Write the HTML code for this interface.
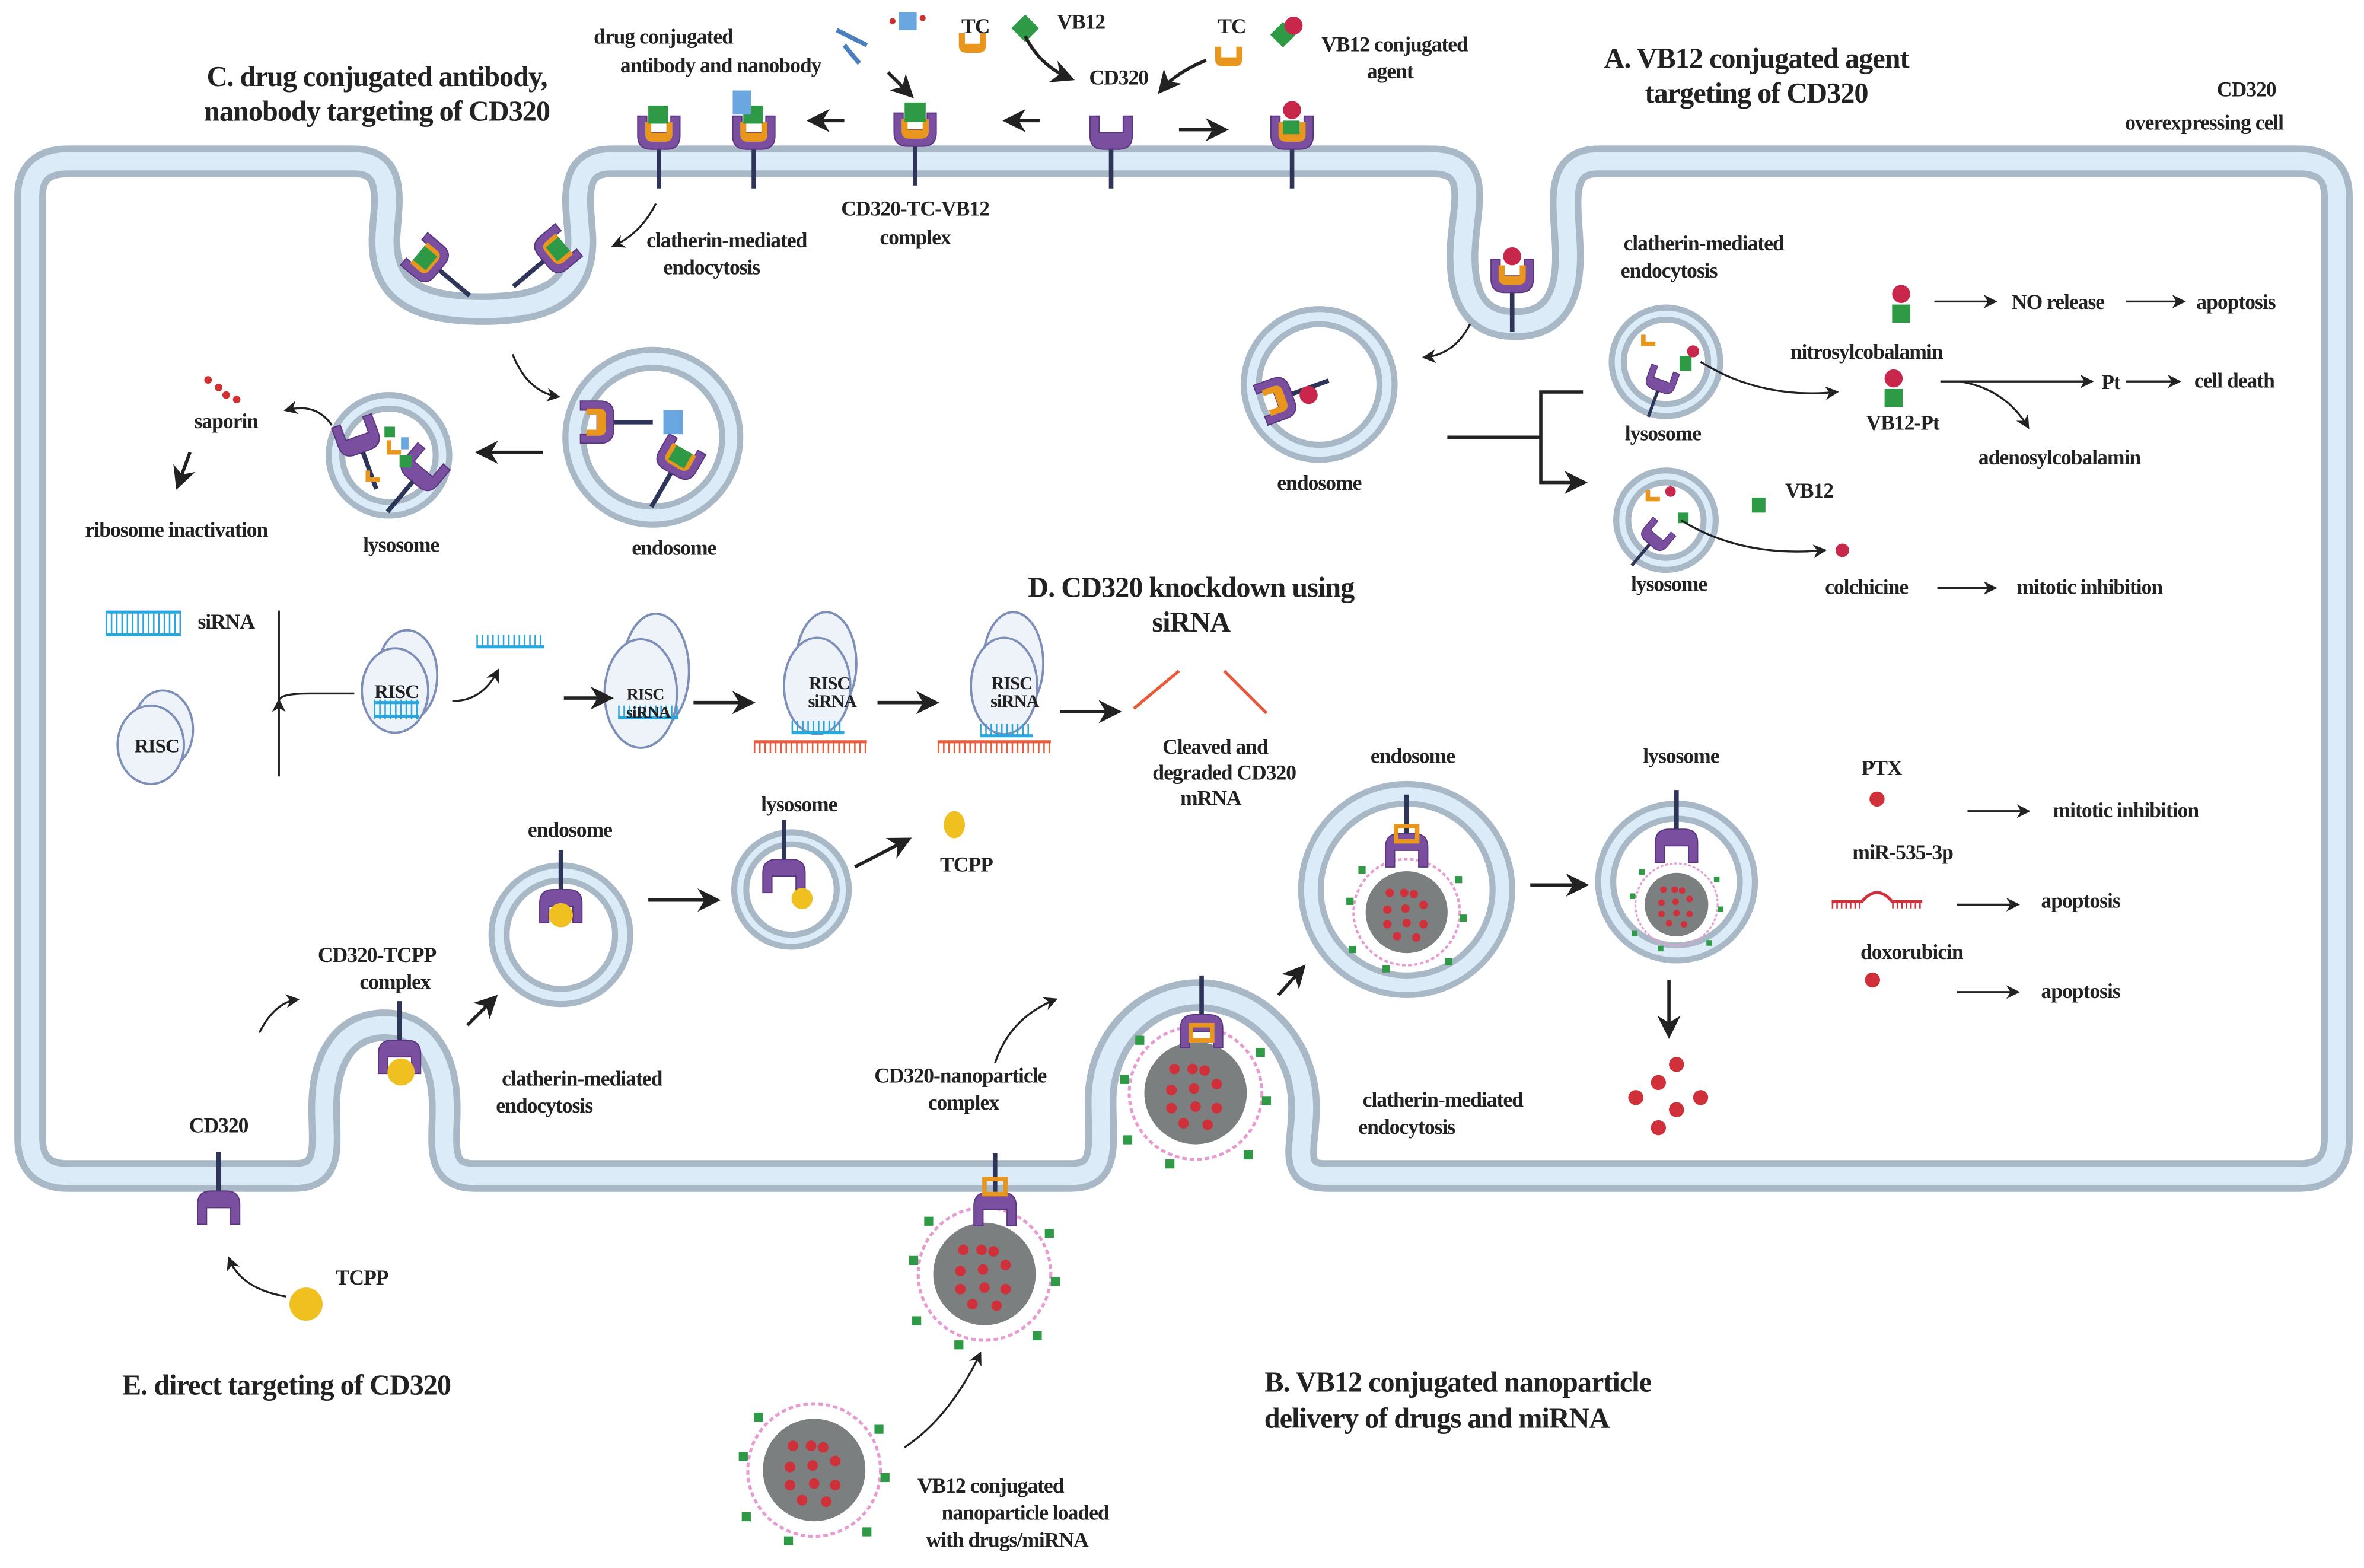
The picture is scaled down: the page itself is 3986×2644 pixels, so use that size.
<!DOCTYPE html>
<html><head><meta charset="utf-8"><style>
html,body{margin:0;padding:0;background:#fff}
svg{display:block}
text{font-family:"Liberation Serif","DejaVu Serif",serif;font-weight:bold;fill:#222;letter-spacing:-0.4px}
.s{font-size:14px}
.h{font-size:19px}
</style></head><body>
<svg width="3986" height="2644" viewBox="0 0 1568 1040" preserveAspectRatio="none" xmlns="http://www.w3.org/2000/svg" font-family="Liberation Serif, serif">
<defs>
<marker id="b" viewBox="0 0 10 10" refX="8" refY="5" markerWidth="7" markerHeight="7" orient="auto"><path d="M0,0L10,5L0,10L3,5z" fill="#222"/></marker>
<g id="rec"><line x1="0" y1="-2" x2="0" y2="28" stroke="#2e3559" stroke-width="3"/><path d="M-14,-20 v13 q0,9 9,9 h10 q9,0 9,-9 v-13 h-6 v11 h-16 v-11z" fill="#7b4fa0" stroke="#5a3680" stroke-width="0.8"/></g>
<g id="tc"><path d="M-9,-14 v8 q0,5 5,5 h8 q5,0 5,-5 v-8 h-4 v7 h-10 v-7z" fill="#e8961e"/></g>
<g id="np"><circle r="44" fill="none" stroke="#e79bd0" stroke-width="2" stroke-dasharray="3 2"/><circle r="34" fill="#7c7f80"/>
<g fill="#d0303a"><circle cx="-14" cy="-16" r="3.5"/><circle cx="-2" cy="-16" r="3.5"/><circle cx="6" cy="-15" r="3.5"/><circle cx="14" cy="-6" r="3.5"/><circle cx="-16" cy="-2" r="3.5"/><circle cx="-1" cy="-3" r="3.5"/><circle cx="-16" cy="10" r="3.5"/><circle cx="0" cy="9" r="3.5"/><circle cx="14" cy="10" r="3.5"/><circle cx="-8" cy="20" r="3.5"/><circle cx="8" cy="21" r="3.5"/></g>
<g fill="#2f9a45"><rect x="-50" y="-12" width="6" height="6"/><rect x="40" y="-30" width="6" height="6"/><rect x="44" y="2" width="6" height="6"/><rect x="-48" y="28" width="6" height="6"/><rect x="32" y="38" width="6" height="6"/><rect x="-20" y="44" width="6" height="6"/><rect x="-40" y="-38" width="6" height="6"/></g></g>
</defs>

<path id="m" d="M20,130 Q20,107 45,107 L235,107 C265,107 255,140 255,160 C255,195 280,205 320,205 C360,205 385,195 385,160 C385,140 375,107 405,107 L950,107 C985,107 970,140 970,170 C970,205 985,215 1005,215 C1025,215 1040,205 1040,170 C1040,140 1030,107 1060,107 L1525,107 Q1550,107 1550,130 L1550,755 Q1550,780 1525,780 L880,780 C855,780 865,760 865,735 C865,690 830,660 795,660 C760,660 730,690 730,730 C730,760 735,780 710,780 L315,780 C290,780 295,760 295,735 C295,700 280,680 255,680 C230,680 215,700 215,735 C215,760 220,780 195,780 L45,780 Q20,780 20,755Z" fill="none" stroke="#a9b8c7" stroke-width="21"/>
<path d="M20,130 Q20,107 45,107 L235,107 C265,107 255,140 255,160 C255,195 280,205 320,205 C360,205 385,195 385,160 C385,140 375,107 405,107 L950,107 C985,107 970,140 970,170 C970,205 985,215 1005,215 C1025,215 1040,205 1040,170 C1040,140 1030,107 1060,107 L1525,107 Q1550,107 1550,130 L1550,755 Q1550,780 1525,780 L880,780 C855,780 865,760 865,735 C865,690 830,660 795,660 C760,660 730,690 730,730 C730,760 735,780 710,780 L315,780 C290,780 295,760 295,735 C295,700 280,680 255,680 C230,680 215,700 215,735 C215,760 220,780 195,780 L45,780 Q20,780 20,755Z" fill="none" stroke="#dcebf8" stroke-width="12"/>

<g fill="#dcebf8" stroke="#a9b8c7" stroke-width="4">
<circle cx="433" cy="290" r="58"/><circle cx="258" cy="302" r="40"/><circle cx="875" cy="255" r="50"/>
<circle cx="1105" cy="240" r="36"/><circle cx="1105" cy="345" r="33"/><circle cx="372" cy="620" r="46"/>
<circle cx="525" cy="590" r="38"/><circle cx="933" cy="590" r="70"/><circle cx="1112" cy="585" r="52"/>
</g>
<g fill="#fff" stroke="#a9b8c7" stroke-width="4">
<circle cx="433" cy="290" r="46"/><circle cx="258" cy="302" r="31"/><circle cx="875" cy="255" r="40"/>
<circle cx="1105" cy="240" r="28"/><circle cx="1105" cy="345" r="25"/><circle cx="372" cy="620" r="36"/>
<circle cx="525" cy="590" r="30"/><circle cx="933" cy="590" r="57"/><circle cx="1112" cy="585" r="42"/>
</g>

<use href="#rec" x="437" y="97"/><use href="#tc" x="437" y="95"/><rect x="430" y="70" width="13" height="12" fill="#2f9a45"/>
<use href="#rec" x="500" y="97"/><use href="#tc" x="500" y="95"/><rect x="493" y="70" width="13" height="12" fill="#2f9a45"/><rect x="486" y="60" width="12" height="16" fill="#6aa6e0"/>
<use href="#rec" x="607" y="95"/><use href="#tc" x="607" y="93"/><rect x="600" y="68" width="14" height="13" fill="#2f9a45"/>
<use href="#rec" x="737" y="97"/>
<use href="#rec" x="857" y="97"/><use href="#tc" x="857" y="95"/><rect x="851" y="80" width="11" height="9" fill="#2f9a45"/><circle cx="857" cy="73" r="6" fill="#c8264a"/>
<g transform="translate(645,36)"><use href="#tc"/></g><g transform="translate(815,45)"><use href="#tc"/></g>
<rect x="674" y="12" width="13" height="13" fill="#2f9a45" transform="rotate(45 680 18)"/>
<rect x="845" y="17" width="12" height="12" fill="#2f9a45" transform="rotate(45 851 23)"/><circle cx="858" cy="17" r="6" fill="#c8264a"/>
<g stroke="#4a7fc0" stroke-width="3"><line x1="555" y1="20" x2="575" y2="30"/><line x1="560" y1="30" x2="570" y2="42"/></g>
<rect x="596" y="8" width="12" height="12" fill="#6aa6e0"/><circle cx="592" cy="14" r="2" fill="#d03030"/><circle cx="612" cy="12" r="2" fill="#d03030"/>

<g transform="translate(290,178) rotate(-50)"><use href="#rec"/><use href="#tc" y="-2"/><rect x="-6" y="-16" width="12" height="11" fill="#2f9a45"/></g>
<g transform="translate(362,172) rotate(50)"><use href="#rec"/><use href="#tc" y="-2"/><rect x="-6" y="-16" width="12" height="11" fill="#2f9a45"/></g>
<g transform="translate(405,280) rotate(-90)"><use href="#rec"/><use href="#tc" y="-2"/></g>
<g transform="translate(446,312) rotate(30)"><use href="#rec"/><use href="#tc" y="-2"/><rect x="-6" y="-16" width="12" height="11" fill="#2f9a45"/></g>
<rect x="440" y="272" width="13" height="16" fill="#6aa6e0"/>
<g transform="translate(240,298) rotate(-20)"><use href="#rec"/></g><g transform="translate(275,318) rotate(40)"><use href="#rec"/></g>
<path d="M258,292 v8 h8" stroke="#e8961e" stroke-width="3" fill="none"/><path d="M244,312 v6 h8" stroke="#e8961e" stroke-width="3" fill="none"/>
<rect x="255" y="283" width="7" height="7" fill="#2f9a45"/><rect x="265" y="302" width="8" height="8" fill="#2f9a45"/><rect x="266" y="290" width="5" height="8" fill="#6aa6e0"/>
<g fill="#d03030"><circle cx="138" cy="252" r="2.5"/><circle cx="145" cy="257" r="2.5"/><circle cx="150" cy="262" r="2.5"/><circle cx="157" cy="265" r="2.5"/></g>

<g transform="translate(1003,192)"><use href="#rec"/><use href="#tc" y="-2"/><circle cx="0" cy="-22" r="6" fill="#c8264a"/></g>
<g transform="translate(855,262) rotate(-110)"><use href="#rec"/><use href="#tc" y="-2"/></g><circle cx="868" cy="262" r="6" fill="#c8264a"/>
<g transform="translate(1100,258) rotate(20) scale(0.7)"><use href="#rec"/></g><path d="M1090,222 v6 h8" stroke="#e8961e" stroke-width="3" fill="none"/>
<rect x="1114" y="236" width="8" height="10" fill="#2f9a45"/><circle cx="1123" cy="233" r="4" fill="#c8264a"/>
<g transform="translate(1095,360) rotate(40) scale(0.7)"><use href="#rec"/></g><path d="M1093,325 v6 h8" stroke="#e8961e" stroke-width="3" fill="none"/>
<circle cx="1108" cy="326" r="3.5" fill="#c8264a"/><rect x="1113" y="340" width="7" height="7" fill="#2f9a45"/>
<rect x="1162" y="330" width="9" height="10" fill="#2f9a45"/><circle cx="1222" cy="365" r="4.5" fill="#c8264a"/>
<rect x="1255" y="202" width="12" height="12" fill="#2f9a45"/><circle cx="1261" cy="195" r="6" fill="#c8264a"/>
<rect x="1250" y="258" width="12" height="12" fill="#2f9a45"/><circle cx="1256" cy="251" r="6" fill="#c8264a"/>

<g transform="translate(145,792) rotate(180)"><use href="#rec"/></g>
<circle cx="203" cy="865" r="11" fill="#f0c020"/>
<g transform="translate(265,692) rotate(180)"><use href="#rec"/></g><circle cx="266" cy="711" r="9" fill="#f0c020"/>
<g transform="translate(372,592) rotate(180)"><use href="#rec"/></g><circle cx="372" cy="607" r="8" fill="#f0c020"/>
<g transform="translate(520,572) rotate(180)"><use href="#rec"/></g><circle cx="532" cy="596" r="7" fill="#f0c020"/>
<ellipse cx="633" cy="547" rx="7" ry="9" fill="#f0c020"/>

<use href="#np" x="653" y="845"/><g transform="translate(660,793) rotate(180)"><use href="#rec"/></g><rect x="653" y="782" width="14" height="10" fill="none" stroke="#e8961e" stroke-width="3"/>
<use href="#np" x="540" y="975"/>
<use href="#np" x="793" y="725"/><g transform="translate(797,675) rotate(180)"><use href="#rec"/></g><rect x="790" y="680" width="14" height="10" fill="none" stroke="#e8961e" stroke-width="3"/>
<g transform="translate(933,605) scale(0.8)"><use href="#np"/></g><g transform="translate(933,555) rotate(180)"><use href="#rec"/></g><rect x="926" y="548" width="14" height="10" fill="none" stroke="#e8961e" stroke-width="3"/>
<g transform="translate(1112,600) scale(0.62)"><use href="#np"/></g><g transform="translate(1112,552) rotate(180)"><use href="#rec"/></g>
<g fill="#d0303a"><circle cx="1112" cy="706" r="5"/><circle cx="1100" cy="718" r="5"/><circle cx="1085" cy="728" r="5"/><circle cx="1128" cy="728" r="5"/><circle cx="1112" cy="736" r="5"/><circle cx="1100" cy="748" r="5"/></g>
<circle cx="1245" cy="530" r="5" fill="#d0303a"/><circle cx="1242" cy="650" r="5" fill="#d0303a"/>
<path d="M1215,598 h20 q10,-12 20,0 h20" stroke="#d0303a" stroke-width="2" fill="none"/>
<path d="M1215,600 h20 M1255,600 h20" stroke="#d0303a" stroke-width="5" stroke-dasharray="1 2" fill="none"/>

<g fill="#eef2f9" stroke="#7d8fb8" stroke-width="1.5">
<ellipse cx="108" cy="484" rx="20" ry="26"/><ellipse cx="100" cy="494" rx="22" ry="26"/>
<ellipse cx="270" cy="448" rx="20" ry="30"/><ellipse cx="262" cy="458" rx="22" ry="28"/>
<ellipse cx="435" cy="445" rx="22" ry="38"/><ellipse cx="425" cy="460" rx="24" ry="36"/>
<ellipse cx="548" cy="440" rx="20" ry="34"/><ellipse cx="542" cy="455" rx="22" ry="32"/>
<ellipse cx="672" cy="440" rx="20" ry="34"/><ellipse cx="666" cy="455" rx="22" ry="32"/>
</g>
<g stroke="#2aa6de" stroke-width="2"><path d="M70,406h50M70,421h50"/><path d="M248,466h30M248,475h30"/><path d="M316,429h45"/><path d="M410,476h40"/><path d="M525,486h35"/><path d="M650,488h35"/></g>
<g stroke="#2aa6de" stroke-width="13" stroke-dasharray="1 2.5"><path d="M70,413.5h50"/><path d="M248,470.5h30"/></g>
<g stroke="#2aa6de" stroke-width="8" stroke-dasharray="1 2.5"><path d="M316,425h45"/><path d="M410,472h40"/><path d="M525,482h35"/><path d="M650,484h35"/></g>
<g stroke="#e85a3a" stroke-width="2"><path d="M500,492h75"/><path d="M622,492h75"/><path d="M752,470l30,-25"/><path d="M812,445l28,28"/></g>
<g stroke="#e85a3a" stroke-width="7" stroke-dasharray="1 2.5"><path d="M500,496h75"/><path d="M622,496h75"/></g>
<g><text x="104" y="499" text-anchor="middle" style="font-size:13px">RISC</text><text x="263" y="463" text-anchor="middle" style="font-size:13px">RISC</text>
<text x="428" y="464" text-anchor="middle" style="font-size:11px">RISC</text><text x="430" y="476" text-anchor="middle" style="font-size:11px">siRNA</text>
<text x="550" y="457" text-anchor="middle" style="font-size:12px">RISC</text><text x="552" y="469" text-anchor="middle" style="font-size:12px">siRNA</text>
<text x="671" y="457" text-anchor="middle" style="font-size:12px">RISC</text><text x="673" y="469" text-anchor="middle" style="font-size:12px">siRNA</text></g>

<g stroke="#222" stroke-width="2.2" fill="none" marker-end="url(#b)">
<path d="M560,80h-22"/><path d="M690,80h-22"/><path d="M782,86h30"/><path d="M589,48l15,15"/>
<path d="M680,24q10,20 30,28"/><path d="M800,40q-20,8 -30,20"/>
<path d="M360,300h-42"/><path d="M1015,587h36"/><path d="M1107,650v36"/>
<path d="M430,597h45"/><path d="M567,575l35,-18"/><path d="M310,680l18,-18"/><path d="M848,660l16,-18"/>
<path d="M126,300l-8,22"/><path d="M460,466h38"/><path d="M582,466h38"/><path d="M703,472h38"/><path d="M374,463h30"/>
<path d="M960,290h62M1022,290v-30h28M1022,290v30h28"/>
</g>
<g stroke="#222" stroke-width="1.3" fill="none" marker-end="url(#b)">
<path d="M1283,200h40"/><path d="M1410,200h38"/><path d="M1287,253h100"/><path d="M1410,253h35"/><path d="M1285,390h38"/>
<path d="M1305,538h40"/><path d="M1298,600h40"/><path d="M1298,658h40"/>
<path d="M1128,240q40,25 90,20"/><path d="M1115,345q40,25 95,20"/><path d="M1300,253q30,5 45,30"/>
<path d="M185,405v60q0,-5 20,-5h30M185,515v-50"/><path d="M300,465q20,0 30,-20"/>
<path d="M435,135q-10,20 -28,28"/><path d="M975,215q-10,20 -30,22"/><path d="M340,235q10,25 30,28"/>
<path d="M220,282q-10,-15 -30,-10"/><path d="M172,685q10,-20 25,-22"/>
<path d="M190,860q-30,-5 -38,-25"/><path d="M660,705q10,-30 40,-42"/><path d="M600,960q30,-20 50,-62"/>
</g>

<g class="s" text-anchor="middle">
<text x="440" y="29">drug conjugated</text><text x="478" y="48">antibody and nanobody</text>
<text x="647" y="22">TC</text><text x="717" y="19">VB12</text><text x="742" y="56">CD320</text><text x="817" y="22">TC</text>
<text x="925" y="34">VB12 conjugated</text><text x="922" y="52">agent</text>
<text x="1490" y="64">CD320</text><text x="1462" y="86">overexpressing cell</text>
<text x="607" y="143">CD320-TC-VB12</text><text x="607" y="162">complex</text>
<text x="482" y="164">clatherin-mediated</text><text x="472" y="182">endocytosis</text>
<text x="1130" y="166">clatherin-mediated</text><text x="1107" y="184">endocytosis</text>
<text x="1365" y="205">NO release</text><text x="1483" y="205">apoptosis</text><text x="1238" y="238">nitrosylcobalamin</text>
<text x="1400" y="258">Pt</text><text x="1482" y="257">cell death</text><text x="1262" y="285">VB12-Pt</text>
<text x="1103" y="292">lysosome</text><text x="1366" y="308">adenosylcobalamin</text><text x="1200" y="330">VB12</text>
<text x="875" y="325">endosome</text><text x="1107" y="392">lysosome</text><text x="1238" y="394">colchicine</text><text x="1386" y="394">mitotic inhibition</text>
<text x="150" y="284">saporin</text><text x="117" y="356">ribosome inactivation</text><text x="266" y="366">lysosome</text><text x="447" y="368">endosome</text>
<text x="150" y="417">siRNA</text>
<text x="806" y="500">Cleaved and</text><text x="812" y="517">degraded CD320</text><text x="803" y="534">mRNA</text>
<text x="937" y="506">endosome</text><text x="1115" y="506">lysosome</text><text x="1248" y="514">PTX</text><text x="1410" y="542">mitotic inhibition</text>
<text x="1262" y="570">miR-535-3p</text><text x="1380" y="602">apoptosis</text><text x="1268" y="636">doxorubicin</text><text x="1380" y="662">apoptosis</text>
<text x="378" y="555">endosome</text><text x="530" y="538">lysosome</text><text x="641" y="578">TCPP</text>
<text x="250" y="638">CD320-TCPP</text><text x="262" y="656">complex</text><text x="386" y="720">clatherin-mediated</text><text x="361" y="738">endocytosis</text>
<text x="637" y="718">CD320-nanoparticle</text><text x="639" y="736">complex</text><text x="957" y="734">clatherin-mediated</text><text x="933" y="752">endocytosis</text>
<text x="145" y="751">CD320</text><text x="240" y="852">TCPP</text>
<text x="657" y="990">VB12 conjugated</text><text x="680" y="1008">nanoparticle loaded</text><text x="668" y="1026">with drugs/miRNA</text>
</g>
<g class="h" text-anchor="middle">
<text x="250" y="57">C. drug conjugated antibody,</text><text x="250" y="80">nanobody targeting of CD320</text>
<text x="1165" y="45">A. VB12 conjugated agent</text><text x="1165" y="68">targeting of CD320</text>
<text x="790" y="396">D. CD320 knockdown using</text><text x="790" y="419">siRNA</text>
<text x="190" y="925">E. direct targeting of CD320</text>
<text x="967" y="923">B. VB12 conjugated nanoparticle</text><text x="953" y="947">delivery of drugs and miRNA</text>
</g>
</svg>
</body></html>
